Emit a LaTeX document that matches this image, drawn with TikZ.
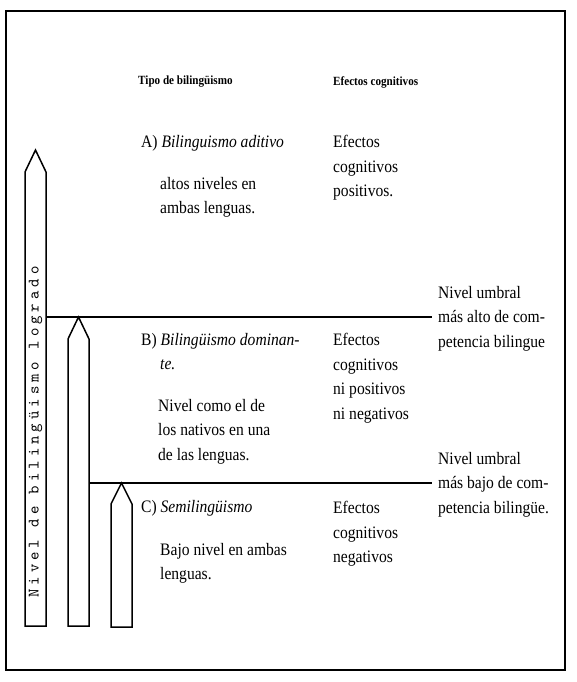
\documentclass[tikz,border=0pt]{standalone}
\usepackage{fontspec}
\setmainfont{Liberation Serif}[FakeStretch=0.89]
\newfontfamily\ejefam{lmmono10-regular.otf}[LetterSpace=25]
\usetikzlibrary{calc}

\newcommand\ejefont{\ejefam\fontsize{16}{16}\selectfont}

\tikzset{
  texto/.style={anchor=north west, inner sep=0pt, align=left, font=\fontsize{17.5}{24.5}\selectfont},
  cabecera/.style={anchor=base west, inner sep=0pt, font=\fontsize{12.5}{14}\selectfont\bfseries},
  barra/.style={line width=1.5pt, line join=miter},
  umbral/.style={line width=2.4pt}
}

\begin{document}
\begin{tikzpicture}[x=1pt,y=-1pt]
  \useasboundingbox (0,0) rectangle (577,682);
  % marco
  \draw[line width=1.5pt] (6,11) rectangle (565,670);

  % flechas de nivel
  \coordinate (A1) at (25,626);  \coordinate (A1r) at (46,317);
  \coordinate (A2) at (68,626);  \coordinate (A2r) at (89,483);
  \coordinate (A3) at (111,627);
  \draw[barra] (A1) -- (25,172) -- (35.5,150) -- (46,172) -- (46,626) -- cycle;
  \draw[barra] (A2) -- (68,339) -- (78.5,317) -- (89,339) -- (89,626) -- cycle;
  \draw[barra] (A3) -- (111,504) -- (121.5,483) -- (132,504) -- (132,627) -- cycle;
  \node[rotate=90, inner sep=0pt, font=\ejefont] (eje) at (35.5,432) {Nivel de bilingüismo logrado};

  % umbrales
  \coordinate (UA) at (432,317);
  \coordinate (UB) at (432,483);
  \draw[umbral] (A1r) -- (UA);
  \draw[umbral] (A2r) -- (UB);

  % cabeceras
  \node[cabecera] (tipo) at (138,85) {Tipo de bilingüismo};
  \node[cabecera] (efectos) at (333,86) {Efectos cognitivos};

  % A
  \node[texto] (tipoA) at (141,135) {A)\ \textit{Bilinguismo aditivo}};
  \node[texto] (descA) at (160,177) {altos niveles en\\ambas lenguas.};
  \node[texto] (efA) at (333,135) {Efectos\\cognitivos\\positivos.};
  \node[texto] (umbA) at (438,286) {Nivel umbral\\más alto de com-\\petencia bilingue};

  % B
  \node[texto] (tipoB) at (141,333) {B)\ \textit{Bilingüismo}\hspace{4pt}\textit{dominan-}\\\hspace{19pt}\textit{te.}};
  \node[texto] (descB) at (158,399) {Nivel como el de\\los nativos en una\\de las lenguas.};
  \node[texto] (efB) at (333,333) {Efectos\\cognitivos\\ni positivos\\ni negativos};
  \node[texto] (umbB) at (438,452) {Nivel umbral\\más bajo de com-\\petencia bilingüe.};

  % C
  \node[texto] (tipoC) at (141,500) {C)\ \textit{Semilingüismo}};
  \node[texto] (descC) at (160,543) {Bajo nivel en ambas\\lenguas.};
  \node[texto] (efC) at (333,501) {Efectos\\cognitivos\\negativos};
\end{tikzpicture}
\end{document}
